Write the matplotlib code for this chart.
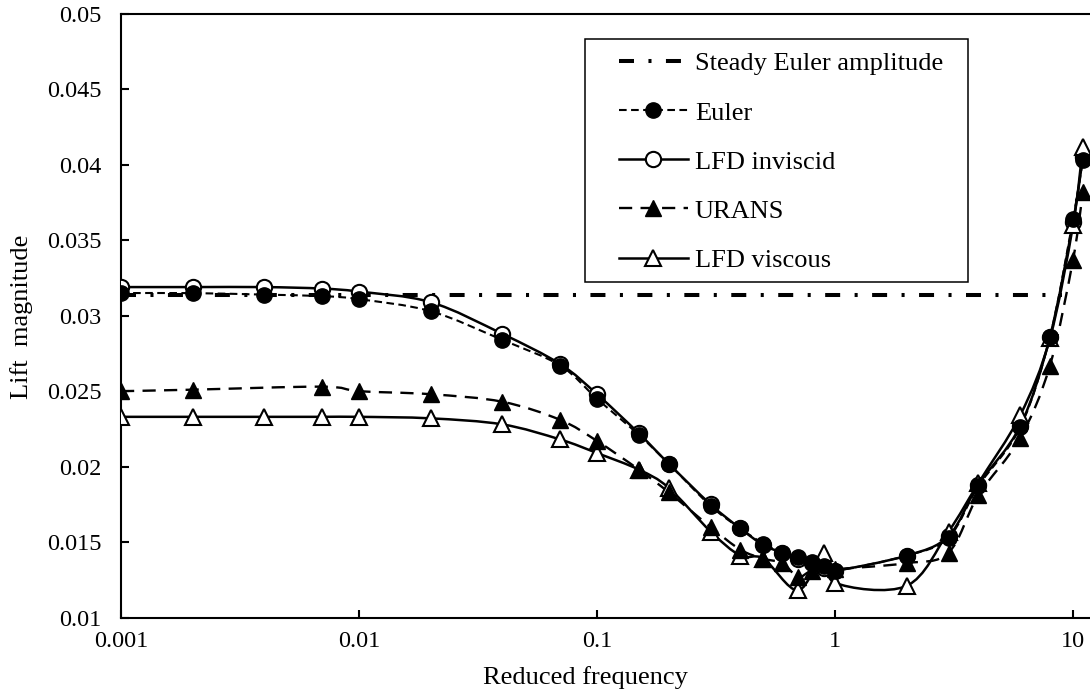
import numpy as np
import matplotlib.pyplot as plt
from matplotlib.path import Path
from matplotlib.patches import PathPatch, Rectangle
from matplotlib.lines import Line2D

plt.rcParams['font.family'] = ['Liberation Serif', 'DejaVu Serif']
plt.rcParams['lines.scale_dashes'] = False

# data
steady_freq = [0.001, 9]
steady_amp = [0.0314, 0.0314]

euler_freq = [0.001, 0.002, 0.004, 0.007, 0.01, 0.02, 0.04, 0.07, 0.1, 0.15, 0.2, 0.3, 0.4,
              0.5, 0.6, 0.7, 0.8, 0.9, 1, 2, 3, 4, 6, 8, 10, 11]
euler = [0.0315, 0.0315, 0.0314, 0.0313, 0.0311, 0.0303, 0.0284, 0.0267, 0.0245, 0.0221, 0.0202,
         0.0174, 0.0159, 0.0149, 0.0143, 0.0140, 0.0137, 0.0134, 0.0131, 0.0141, 0.0153, 0.0187,
         0.0226, 0.0286, 0.0364, 0.0403]

lfd_inv_freq = euler_freq
lfd_inv = [0.0319, 0.0319, 0.0319, 0.0318, 0.0316, 0.0309, 0.0288, 0.0268, 0.0248, 0.0222, 0.0202,
           0.0175, 0.0159, 0.0148, 0.0143, 0.0139, 0.0136, 0.0133, 0.0131, 0.0141, 0.0154, 0.0188,
           0.0227, 0.0286, 0.0362, 0.0405]

urans_freq = [0.001, 0.002, 0.007, 0.01, 0.02, 0.04, 0.07, 0.1, 0.15, 0.2, 0.3, 0.4, 0.5, 0.6,
              0.7, 0.8, 1, 2, 3, 4, 6, 8, 10, 11]
urans = [0.0250, 0.0251, 0.0253, 0.0250, 0.0248, 0.0243, 0.0231, 0.0217, 0.0198, 0.0183, 0.0160,
         0.0145, 0.0139, 0.0136, 0.0127, 0.0131, 0.0132, 0.0136, 0.0143, 0.0181, 0.0219, 0.0267,
         0.0337, 0.0382]

lfd_visc_freq = [0.001, 0.002, 0.004, 0.007, 0.01, 0.02, 0.04, 0.07, 0.1, 0.15, 0.2, 0.3, 0.4,
                 0.5, 0.7, 0.9, 1, 2, 3, 4, 6, 8, 10, 11]
lfd_visc = [0.0233, 0.0233, 0.0233, 0.0233, 0.0233, 0.0232, 0.0228, 0.0218, 0.0209, 0.0198, 0.0186,
            0.0157, 0.0141, 0.0139, 0.0118, 0.0143, 0.0123, 0.0121, 0.0157, 0.0189, 0.0234, 0.0285,
            0.0360, 0.0412]

yticks = [0.01, 0.015, 0.02, 0.025, 0.03, 0.035, 0.04, 0.045, 0.05]
ytick_labels = ['0.01', '0.015', '0.02', '0.025', '0.03', '0.035', '0.04', '0.045', '0.05']
xticks = [0.001, 0.01, 0.1, 1, 10]
xtick_labels = ['0.001', '0.01', '0.1', '1', '10']


def smooth_path(x, y):
    # excel style smoothed line: bezier segments built in (log x, y)
    pts = np.column_stack([np.log10(x), y])
    n = len(pts)
    verts = [pts[0]]
    codes = [Path.MOVETO]
    for i in range(n - 1):
        p0 = pts[i - 1] if i > 0 else pts[i]
        p1 = pts[i]
        p2 = pts[i + 1]
        p3 = pts[i + 2] if i + 2 < n else pts[i + 1]
        verts += [p1 + (p2 - p0) / 6, p2 - (p3 - p1) / 6, p2]
        codes += [Path.CURVE4] * 3
    verts = np.array(verts)
    verts[:, 0] = 10 ** verts[:, 0]
    return Path(verts, codes)


W, H = 1090, 693
fig = plt.figure(figsize=(W / 100, H / 100), dpi=100)
x0, x1, ytop, ybot = 121, 1090, 14, 617.5
ax = fig.add_axes([x0 / W, (H - ybot) / H, (x1 - x0) / W, (ybot - ytop) / H])
ax.set_xscale('log')
ax.set_xlim(0.001, 10 ** ((x1 - 835) / 238))
ax.set_ylim(0.01, 0.05)

steady_ls = (0, (10.8, 10.4, 2.2, 10.4))
euler_ls = (0, (5.5, 3.2))
urans_ls = (0, (9.5, 6))

ax.plot(steady_freq, steady_amp, color='black', lw=2.9, linestyle=steady_ls, zorder=1)

ax.add_patch(PathPatch(smooth_path(euler_freq, euler), fill=False, ec='black', lw=1.5,
                       linestyle=euler_ls, zorder=2))
ax.add_patch(PathPatch(smooth_path(lfd_inv_freq, lfd_inv), fill=False, ec='black', lw=1.8,
                       zorder=2))
ax.add_patch(PathPatch(smooth_path(urans_freq, urans), fill=False, ec='black', lw=1.7,
                       linestyle=urans_ls, zorder=2))
ax.add_patch(PathPatch(smooth_path(lfd_visc_freq, lfd_visc), fill=False, ec='black', lw=1.8,
                       zorder=2))

ms = 11
ax.plot(lfd_inv_freq, lfd_inv, ls='none', marker='o', ms=ms, mfc='white', mec='black', mew=1.5, zorder=3)
ax.plot(lfd_visc_freq, lfd_visc, ls='none', marker='^', ms=ms, mfc='white', mec='black', mew=1.5, zorder=3)
ax.plot(euler_freq, euler, ls='none', marker='o', ms=ms, mfc='black', mec='black', zorder=4)
ax.plot(urans_freq, urans, ls='none', marker='^', ms=ms, mfc='black', mec='black', zorder=4)

ax.set_xticks(xticks)
ax.set_xticklabels(xtick_labels)
ax.xaxis.set_minor_locator(plt.NullLocator())
ax.set_yticks(yticks)
ax.set_yticklabels(ytick_labels)
ax.tick_params(axis='both', direction='in', length=6, width=1.5, labelsize=17.5)
ax.tick_params(axis='x', pad=10)
ax.tick_params(axis='y', pad=14)
ax.spines['right'].set_visible(False)
for s in ['left', 'bottom', 'top']:
    ax.spines[s].set_linewidth(1.5)

fig.text(585 / W, 1 - 678 / H, 'Reduced frequency', ha='center', va='center', fontsize=19)
fig.text(22 / W, 1 - 317 / H, 'Lift  magnitude', ha='center', va='center', rotation=90, fontsize=19)

# legend
handles = [
    Line2D([], [], color='black', lw=2.9, linestyle=steady_ls),
    Line2D([], [], color='black', lw=1.5, linestyle=euler_ls, marker='o', ms=ms, mfc='black'),
    Line2D([], [], color='black', lw=1.8, marker='o', ms=ms, mfc='white', mew=1.5),
    Line2D([], [], color='black', lw=1.7, linestyle=urans_ls, marker='^', ms=ms, mfc='black'),
    Line2D([], [], color='black', lw=1.8, marker='^', ms=ms, mfc='white', mew=1.5),
]
labels = ['Steady Euler amplitude', 'Euler', 'LFD inviscid', 'URANS', 'LFD viscous']
ax.legend(handles, labels, loc='upper left', bbox_to_anchor=(619 / W, 1 - 52 / H),
          bbox_transform=fig.transFigure, frameon=False, borderpad=0, borderaxespad=0,
          handlelength=2.6, handletextpad=0.27, labelspacing=0.97, fontsize=19)
fig.add_artist(Rectangle((585 / W, (H - 282) / H), 383 / W, 243 / H, fill=False,
                         ec='black', lw=1.1, transform=fig.transFigure))

fig.savefig('out.png', dpi=100)
